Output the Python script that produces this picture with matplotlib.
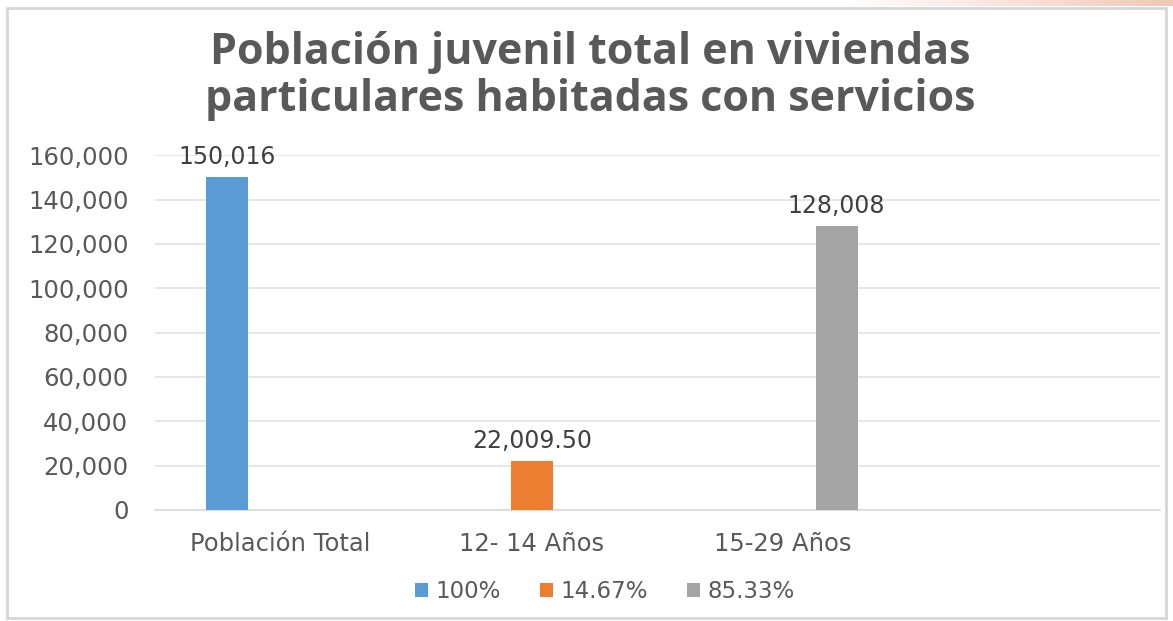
import numpy as np
import matplotlib.pyplot as plt
from matplotlib.patches import Rectangle
from matplotlib.colors import LinearSegmentedColormap

# datos
categorias = ["Población Total", "12- 14 Años", "15-29 Años", ""]
series     = ["100%", "14.67%", "85.33%"]
valores    = [
    [150016, np.nan, np.nan, np.nan],
    [np.nan, 22009.50, np.nan, np.nan],
    [np.nan, np.nan, 128008, np.nan],
]
etiquetas  = ["150,016", "22,009.50", "128,008"]
colores    = ["#5B9BD5", "#ED7D31", "#A5A5A5"]
y_ticks    = [0, 20000, 40000, 60000, 80000, 100000, 120000, 140000, 160000]

fig = plt.figure(figsize=(11.73, 6.21), dpi=100)
ax  = fig.add_axes([0.132, 0.179, 0.857, 0.571])

x       = np.arange(len(categorias))
offsets = [-0.213, 0.0, 0.213]
ancho   = 0.167

for i, nombre in enumerate(series):
    vals = np.array(valores[i], dtype=float)
    ax.bar(x + offsets[i], vals, width=ancho, color=colores[i], label=nombre, zorder=3)
    # etiqueta de datos solo en la barra con valor
    j = int(np.nanargmax(vals))
    ax.annotate(etiquetas[i], (x[j] + offsets[i], vals[j]), xytext=(0, 6),
                textcoords="offset points", ha="center", va="bottom",
                fontsize=17, color="#404040")

ax.set_xlim(-0.5, len(categorias) - 0.5)
ax.set_ylim(0, 160000)
ax.set_yticks(y_ticks)
ax.set_yticklabels([f"{v:,}" for v in y_ticks], fontsize=17.5, color="#595959")
ax.set_xticks(x)
ax.set_xticklabels(categorias, fontsize=17.5, color="#595959")
ax.tick_params(axis="y", length=0, pad=19)
ax.tick_params(axis="x", length=0, pad=16)

ax.grid(axis="y", color="#e3e3e3", linewidth=1.2, zorder=0)
for s in ["top", "right", "left"]:
    ax.spines[s].set_visible(False)
ax.spines["bottom"].set_color("#d9d9d9")
ax.spines["bottom"].set_linewidth(1.2)

fig.text(0.503, 0.878, "Población juvenil total en viviendas\nparticulares habitadas con servicios",
         ha="center", va="center", fontsize=31, fontweight="bold", color="#595959",
         family="Open Sans", linespacing=1.12)

leg = fig.legend(loc="center", bbox_to_anchor=(0.516, 0.047), ncol=3, frameon=False,
                 fontsize=16.5, handlelength=0.55, handleheight=0.55, handletextpad=0.35,
                 columnspacing=1.7)
for t in leg.get_texts():
    t.set_color("#595959")

# marco del grafico y franja superior de la diapositiva
fig.patches.append(Rectangle((0.006, 0.005), 0.988, 0.982, transform=fig.transFigure,
                             fill=False, edgecolor="#d6d6d6", linewidth=2))
grad = fig.add_axes([0.72, 0.99, 0.28, 0.01])
grad.imshow(np.linspace(0, 1, 256).reshape(1, -1), aspect="auto",
            cmap=LinearSegmentedColormap.from_list("p", ["#ffffff", "#f0c8b8"]))
grad.axis("off")

fig.savefig("out.png", dpi=100)
